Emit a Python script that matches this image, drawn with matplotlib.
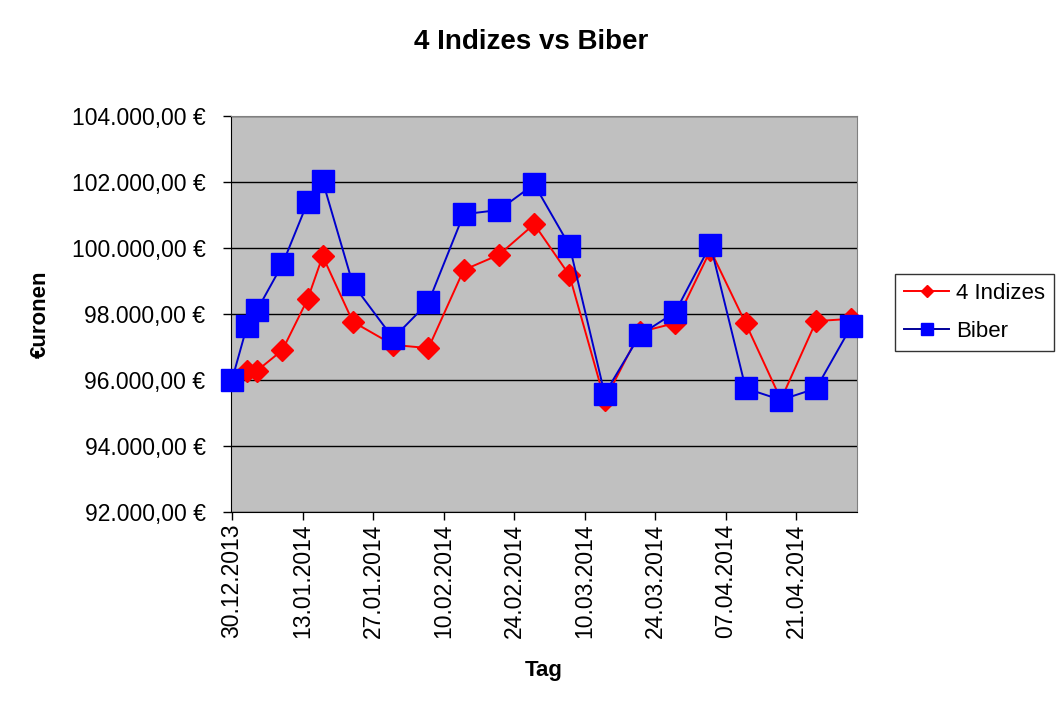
import datetime as dt
import matplotlib
matplotlib.use('Agg')
import matplotlib.pyplot as plt
import matplotlib.dates as mdates
from matplotlib.ticker import FuncFormatter

plt.rcParams['font.family'] = ['Liberation Sans', 'DejaVu Sans']

# data
dates = ['30.12.2013', '02.01.2014', '04.01.2014', '09.01.2014', '14.01.2014',
         '17.01.2014', '23.01.2014', '31.01.2014', '07.02.2014', '14.02.2014',
         '21.02.2014', '28.02.2014', '07.03.2014', '14.03.2014', '21.03.2014',
         '28.03.2014', '04.04.2014', '11.04.2014', '18.04.2014', '25.04.2014',
         '02.05.2014']
indizes = [96000, 96260, 96280, 96900, 98440, 99750, 97760, 97060, 96960, 99330,
           99790, 100720, 99170, 95380, 97450, 97720, 99930, 97710, 95400, 97780,
           97850]
biber = [96000, 97640, 98120, 99500, 101380, 102030, 98900, 97260, 98350, 101020,
         101150, 101930, 100070, 95570, 97360, 98050, 100090, 95740, 95390, 95740,
         97630]

x = [dt.datetime.strptime(d, '%d.%m.%Y') for d in dates]

fig = plt.figure(figsize=(10.63, 7.12), dpi=100)
ax = fig.add_axes([231 / 1063, 1 - 511.7 / 712, (857 - 231) / 1063, (511.7 - 116) / 712])
ax.set_facecolor('#C0C0C0')

ax.plot(x, indizes, color='#FF0000', lw=1.4, marker='D', ms=11.5,
        markerfacecolor='#FF0000', markeredgecolor='#FF0000', label='4 Indizes',
        zorder=3, clip_on=False)
ax.plot(x, biber, color='#0000CC', lw=1.4, marker='s', ms=16,
        markerfacecolor='#0000FF', markeredgecolor='#0000FF', label='Biber',
        zorder=4, clip_on=False)

ax.set_ylim(92000, 104000)
ax.set_yticks(range(92000, 104001, 2000))
ax.yaxis.set_major_formatter(FuncFormatter(
    lambda v, p: f'{v:,.2f}'.replace(',', 'X').replace('.', ',').replace('X', '.') + ' €'))
ax.grid(axis='y', color='black', lw=1)
ax.set_axisbelow(True)

start = x[0]
ax.set_xlim(start - dt.timedelta(days=0.2), start + dt.timedelta(days=124.1))
ax.set_xticks([start + dt.timedelta(days=14 * i) for i in range(9)])
ax.xaxis.set_major_formatter(mdates.DateFormatter('%d.%m.%Y'))
plt.setp(ax.get_xticklabels(), rotation=90)

ax.tick_params(axis='both', labelsize=16.5, direction='out', length=5.8, width=1, color='black')
ax.tick_params(axis='x', pad=2.7)
ax.tick_params(axis='y', pad=12.5)

for s in ['top', 'right']:
    ax.spines[s].set_color('#808080')
for s in ['left', 'bottom']:
    ax.spines[s].set_color('black')

ax.set_xlabel('Tag', fontsize=16, fontweight='bold', labelpad=16)
ax.set_ylabel('€uronen', fontsize=16, fontweight='bold', labelpad=15)
fig.suptitle('4 Indizes vs Biber', x=0.5, y=1 - 41.7 / 712, va='center',
             fontsize=20, fontweight='bold')

leg = fig.legend(loc='center left', bbox_to_anchor=(895 / 1063, 1 - 312.5 / 712),
                 fontsize=16, frameon=True, fancybox=False, edgecolor='black',
                 borderpad=0.4, handlelength=2.05, labelspacing=0.75, handletextpad=0.3,
                 borderaxespad=0, markerscale=0.57)
leg.get_frame().set_linewidth(1)
leg.get_lines()[1].set_color('#000099')

fig.savefig('out.png', dpi=100)
